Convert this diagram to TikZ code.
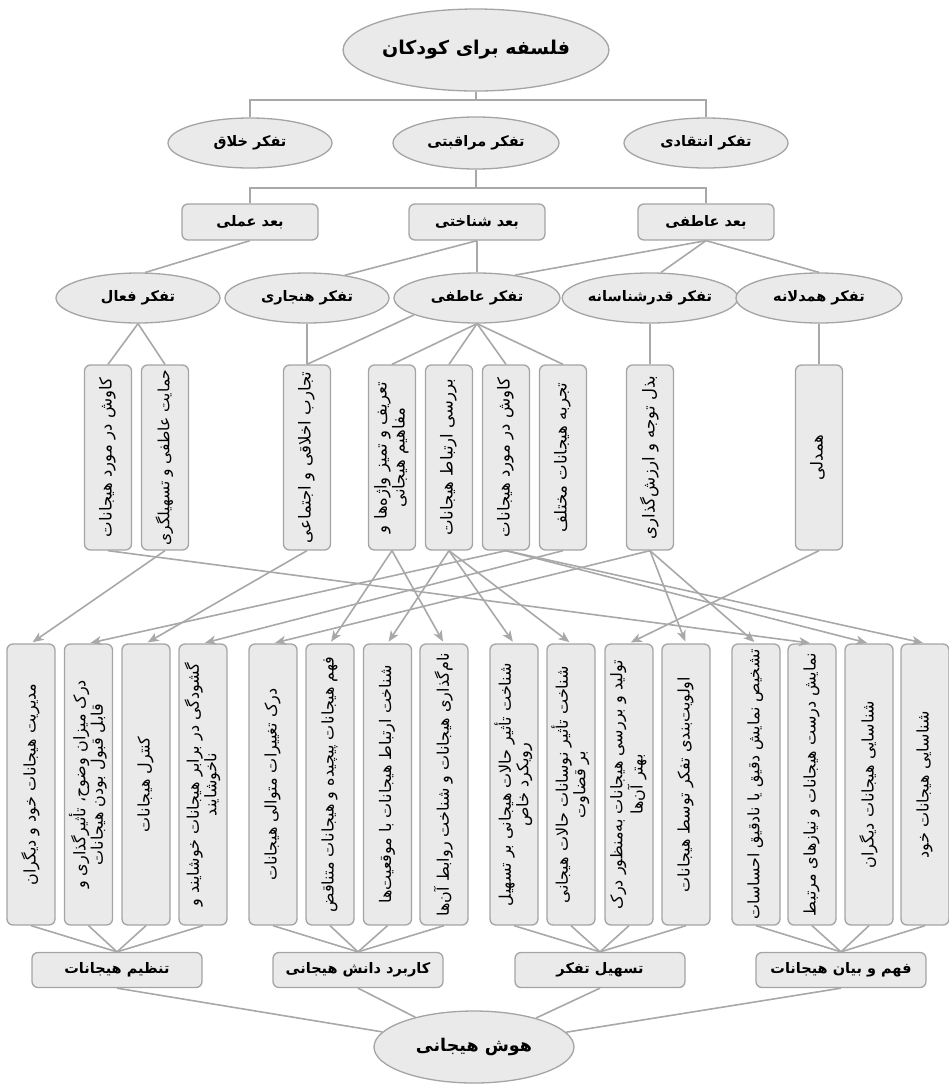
\documentclass[tikz,border=0pt]{standalone}
\usepackage{fontspec}
\usepackage{graphicx}
\usetikzlibrary{shapes.geometric,arrows.meta,calc}
\TeXXeTstate=1
\newfontfamily\arabicfont[Script=Arabic]{DejaVu Sans}
\newcommand\fa[1]{{\arabicfont\beginR #1\endR}}
\newsavebox\fitbox
\newcommand\fitw[2]{\sbox\fitbox{#2}\ifdim\wd\fitbox>#1\relax\resizebox{#1}{!}{\usebox\fitbox}\else\usebox\fitbox\fi}
\newcommand\vtext[2]{\rotatebox{90}{\fitw{#1}{\begin{tabular}{@{}c@{}}#2\end{tabular}}}}
\definecolor{lnc}{HTML}{A8A8A8}
\definecolor{fillc}{HTML}{EAEAEA}
\definecolor{bdc}{HTML}{A4A4A4}
\tikzset{
 ell/.style={ellipse, draw=bdc, fill=fillc, line width=1.3pt, inner sep=0pt},
 rbox/.style={rectangle, rounded corners=6pt, draw=bdc, fill=fillc, line width=1.3pt, inner sep=0pt},
 hlab/.style={font=\fontsize{14.5}{17}\selectfont\bfseries},
 tbox/.style={rbox, minimum width=47pt, minimum height=185pt, font=\fontsize{16.5}{18}\selectfont},
 bbox/.style={rbox, minimum width=48pt, minimum height=281pt, font=\fontsize{16}{17.5}\selectfont},
 gbox/.style={rbox, hlab, minimum width=170pt, minimum height=35pt},
 con/.style={draw=lnc, line width=1.6pt},
 arr/.style={con, -{Stealth[length=11pt,width=9pt,inset=3pt]}, shorten >=2pt},
}
\begin{document}
\begin{tikzpicture}[x=1pt,y=-1pt]
\useasboundingbox (0,0) rectangle (949,1085);
% top levels
\node[ell, minimum width=256pt, minimum height=82pt, font=\fontsize{19}{22}\selectfont\bfseries] (phil) at (476,50) {\fa{فلسفه برای کودکان}};
\node[ell, hlab, minimum width=164pt, minimum height=50pt] (khalagh) at (250,143) {\fa{تفکر خلاق}};
\node[ell, hlab, minimum width=166pt, minimum height=52pt] (moragh) at (476,143) {\fa{تفکر مراقبتی}};
\node[ell, hlab, minimum width=164pt, minimum height=50pt] (enteghadi) at (706,143) {\fa{تفکر انتقادی}};
\node[rbox, hlab, minimum width=136pt, minimum height=36pt] (amali) at (250,222) {\fa{بعد عملی}};
\node[rbox, hlab, minimum width=136pt, minimum height=36pt] (shenakhti) at (477,222) {\fa{بعد شناختی}};
\node[rbox, hlab, minimum width=136pt, minimum height=36pt] (atefi) at (706,222) {\fa{بعد عاطفی}};
\node[ell, hlab, minimum width=164pt, minimum height=50pt] (faal) at (138,298) {\fa{تفکر فعال}};
\node[ell, hlab, minimum width=164pt, minimum height=50pt] (hanjari) at (307,298) {\fa{تفکر هنجاری}};
\node[ell, hlab, minimum width=166pt, minimum height=50pt] (tatefi) at (477,298) {\fa{تفکر عاطفی}};
\node[ell, hlab, minimum width=168pt, minimum height=50pt] (ghadr) at (650,298) {\fa{تفکر قدرشناسانه}};
\node[ell, hlab, minimum width=166pt, minimum height=50pt] (hamdel) at (819,298) {\fa{تفکر همدلانه}};
% upper vertical boxes
\node[tbox] (T1) at (108,457.5) {\vtext{176pt}{\fa{کاوش در مورد هیجانات}}};
\node[tbox] (T2) at (165,457.5) {\vtext{176pt}{\fa{حمایت عاطفی و تسهیلگری}}};
\node[tbox] (T3) at (307,457.5) {\vtext{176pt}{\fa{تجارب اخلاقی و اجتماعی}}};
\node[tbox] (T4) at (392,457.5) {\vtext{176pt}{\fa{تعریف و تمیز واژه^^^^200cها و}\\\fa{مفاهیم هیجانی}}};
\node[tbox] (T5) at (449,457.5) {\vtext{176pt}{\fa{بررسی ارتباط هیجانات}}};
\node[tbox] (T6) at (506,457.5) {\vtext{176pt}{\fa{کاوش در مورد هیجانات}}};
\node[tbox] (T7) at (563,457.5) {\vtext{176pt}{\fa{تجربه هیجانات مختلف}}};
\node[tbox] (T8) at (650,457.5) {\vtext{176pt}{\fa{بذل توجه و ارزش^^^^200cگذاری}}};
\node[tbox] (T9) at (819,457.5) {\vtext{176pt}{\fa{همدلی}}};
% lower vertical boxes
\node[bbox] (B1) at (31,784.5) {\vtext{270pt}{\fa{مدیریت هیجانات خود و دیگران}}};
\node[bbox] (B2) at (88.5,784.5) {\vtext{270pt}{\fa{درک میزان وضوح، تأثیرگذاری و}\\\fa{قابل قبول بودن هیجانات}}};
\node[bbox] (B3) at (146,784.5) {\vtext{270pt}{\fa{کنترل هیجانات}}};
\node[bbox] (B4) at (203,784.5) {\vtext{270pt}{\fa{گشودگی در برابر هیجانات خوشایند و}\\\fa{ناخوشایند}}};
\node[bbox] (B5) at (273,784.5) {\vtext{270pt}{\fa{درک تغییرات متوالی هیجانات}}};
\node[bbox] (B6) at (330,784.5) {\vtext{270pt}{\fa{فهم هیجانات پیچیده و هیجانات متناقض}}};
\node[bbox] (B7) at (387.5,784.5) {\vtext{270pt}{\fa{شناخت ارتباط هیجانات با موقعیت^^^^200cها}}};
\node[bbox] (B8) at (444,784.5) {\vtext{270pt}{\fa{نام^^^^200cگذاری هیجانات و شناخت روابط آن^^^^200cها}}};
\node[bbox] (B9) at (514,784.5) {\vtext{270pt}{\fa{شناخت تأثیر حالات هیجانی بر تسهیل}\\\fa{رویکرد خاص}}};
\node[bbox] (B10) at (571,784.5) {\vtext{270pt}{\fa{شناخت تأثیر نوسانات حالات هیجانی}\\\fa{بر قضاوت}}};
\node[bbox] (B11) at (629,784.5) {\vtext{270pt}{\fa{تولید و بررسی هیجانات به^^^^200cمنظور درک}\\\fa{بهتر آن^^^^200cها}}};
\node[bbox] (B12) at (686,784.5) {\vtext{270pt}{\fa{اولویت^^^^200cبندی تفکر توسط هیجانات}}};
\node[bbox] (B13) at (756,784.5) {\vtext{270pt}{\fa{تشخیص نمایش دقیق یا نادقیق احساسات}}};
\node[bbox] (B14) at (812,784.5) {\vtext{270pt}{\fa{نمایش درست هیجانات و نیازهای مرتبط}}};
\node[bbox] (B15) at (869,784.5) {\vtext{270pt}{\fa{شناسایی هیجانات دیگران}}};
\node[bbox] (B16) at (925,784.5) {\vtext{270pt}{\fa{شناسایی هیجانات خود}}};
% group boxes
\node[gbox] (G1) at (117,970) {\fa{تنظیم هیجانات}};
\node[gbox] (G2) at (358,970) {\fa{کاربرد دانش هیجانی}};
\node[gbox] (G3) at (600,970) {\fa{تسهیل تفکر}};
\node[gbox] (G4) at (841,970) {\fa{فهم و بیان هیجانات}};
\node[ell, minimum width=200pt, minimum height=72pt, font=\fontsize{17.5}{20}\selectfont\bfseries] (hoosh) at (474,1047) {\fa{هوش هیجانی}};
% tree connectors
\coordinate (h1l) at (250,100); \coordinate (h1m) at (476,100); \coordinate (h1r) at (706,100);
\draw[con] (phil.south) -- (h1m);
\draw[con] (khalagh.north) -- (h1l) -- (h1r) -- (enteghadi.north);
\coordinate (h2l) at (250,188); \coordinate (h2m) at (476,188); \coordinate (h2r) at (706,188);
\draw[con] (moragh.south) -- (h2m);
\draw[con] (amali.north) -- (h2l) -- (h2r) -- (atefi.north);
\draw[con] (amali.south) -- (faal.74);
\draw[con] (shenakhti.south) -- (hanjari.31);
\draw[con] (shenakhti.south) -- (tatefi.north);
\draw[con] (atefi.south) -- (tatefi.31);
\draw[con] (atefi.south) -- (ghadr.67);
\draw[con] (atefi.south) -- (hamdel.north);
\draw[con] (faal.south) -- (T1.north);
\draw[con] (faal.south) -- (T2.north);
\draw[con] (hanjari.south) -- (T3.north);
\draw[con] (tatefi.195) -- (T3.north);
\foreach \t in {T4,T5,T6,T7} \draw[con] (tatefi.south) -- (\t.north);
\draw[con] (ghadr.south) -- (T8.north);
\draw[con] (hamdel.south) -- (T9.north);
% arrows
\draw[arr] (T1.south) -- (B14.north);
\draw[arr] (T2.south) -- (B1.north);
\draw[arr] (T3.south) -- (B3.north);
\draw[arr] (T4.south) -- (B6.north);
\draw[arr] (T4.south) -- (B8.north);
\draw[arr] (T5.south) -- (B7.north);
\draw[arr] (T5.south) -- (B9.north);
\draw[arr] (T5.south) -- (B10.north);
\draw[arr] (T6.south) -- (B2.north);
\draw[arr] (T6.south) -- (B15.north);
\draw[arr] (T6.south) -- (B16.north);
\draw[arr] (T7.south) -- (B4.north);
\draw[arr] (T8.south) -- (B5.north);
\draw[arr] (T8.south) -- (B12.north);
\draw[arr] (T8.south) -- (B13.north);
\draw[arr] (T9.south) -- (B11.north);
% bottom
\foreach \b in {B1,B2,B3,B4} \draw[con] (\b.south) -- (G1.north);
\foreach \b in {B5,B6,B7,B8} \draw[con] (\b.south) -- (G2.north);
\foreach \b in {B9,B10,B11,B12} \draw[con] (\b.south) -- (G3.north);
\foreach \b in {B13,B14,B15,B16} \draw[con] (\b.south) -- (G4.north);
\foreach \g in {G1,G2,G3,G4} \draw[con] (\g.south) -- (hoosh);
\end{tikzpicture}
\end{document}
